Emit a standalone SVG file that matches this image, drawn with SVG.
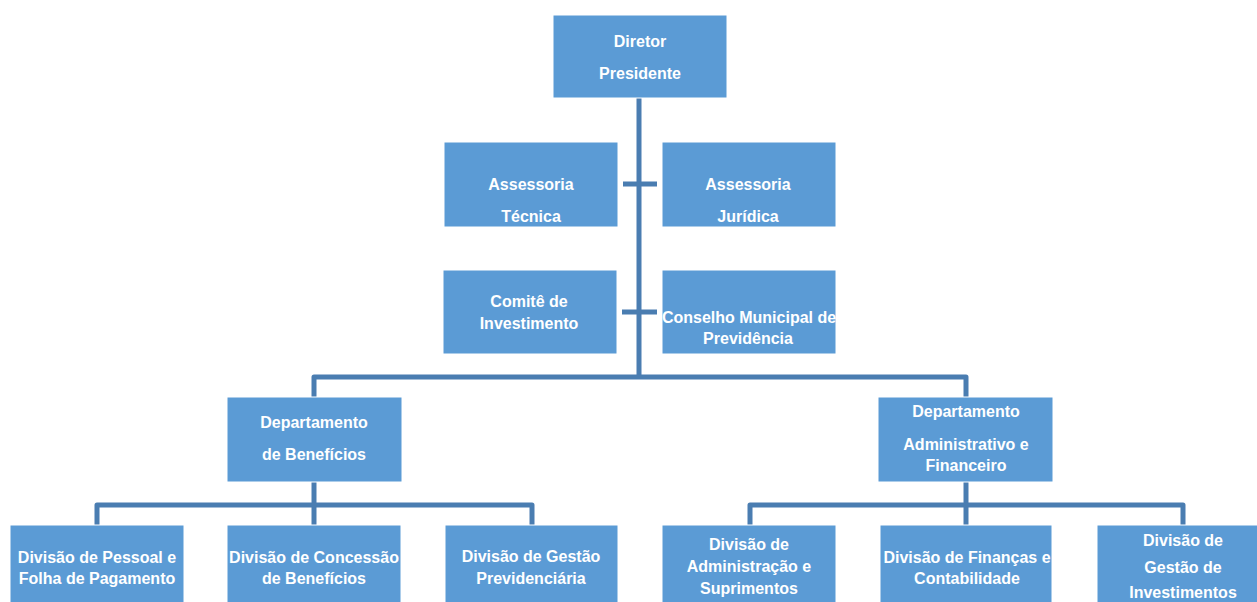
<svg xmlns="http://www.w3.org/2000/svg" width="1257" height="602" viewBox="0 0 1257 602">
<style>
.box{fill:#5B9BD5;stroke:#ffffff;stroke-width:1}
.t{font-family:"Liberation Sans",Arial,sans-serif;font-weight:bold;font-size:16px;fill:#ffffff;text-anchor:middle}
.c{fill:none;stroke:#4A7DB1;stroke-width:5;stroke-linejoin:round}
</style>
<rect width="1257" height="602" fill="#ffffff"/>
<g id="connectors">
<path class="c" d="M639 98 V377"/>
<path class="c" d="M623 184 H657"/>
<path class="c" d="M622 312 H657"/>
<path class="c" d="M314 397 V377 H966 V397"/>
<path class="c" d="M314 482 V525"/>
<path class="c" d="M97 525 V505 H532 V525"/>
<path class="c" d="M966 482 V525"/>
<path class="c" d="M750 525 V505 H1183 V525"/>
</g>
<g id="diretor"><rect class="box" x="553" y="15" width="174" height="83"/><text class="t" x="640" y="47">Diretor</text><text class="t" x="640" y="79">Presidente</text></g>
<g id="assessoria-tecnica"><rect class="box" x="444" y="142" width="174" height="85"/><text class="t" x="531" y="190">Assessoria</text><text class="t" x="531" y="222">Técnica</text></g>
<g id="assessoria-juridica"><rect class="box" x="662" y="142" width="174" height="85"/><text class="t" x="748" y="190">Assessoria</text><text class="t" x="748" y="222">Jurídica</text></g>
<g id="comite"><rect class="box" x="443" y="270" width="174" height="84"/><text class="t" x="529" y="307">Comitê de</text><text class="t" x="529" y="329">Investimento</text></g>
<g id="conselho"><rect class="box" x="662" y="270" width="174" height="84"/><text class="t" x="749" y="323">Conselho Municipal de</text><text class="t" x="748" y="344">Previdência</text></g>
<g id="dep-beneficios"><rect class="box" x="227" y="397" width="175" height="85"/><text class="t" x="314" y="428">Departamento</text><text class="t" x="314" y="460">de Benefícios</text></g>
<g id="dep-adm"><rect class="box" x="878" y="397" width="175" height="85"/><text class="t" x="966" y="417">Departamento</text><text class="t" x="966" y="450">Administrativo e</text><text class="t" x="966" y="471">Financeiro</text></g>
<g id="div-pessoal"><rect class="box" x="10" y="525" width="174" height="80"/><text class="t" x="97" y="563">Divisão de Pessoal e</text><text class="t" x="97" y="584">Folha de Pagamento</text></g>
<g id="div-concessao"><rect class="box" x="227" y="525" width="174" height="80"/><text class="t" x="314" y="563">Divisão de Concessão</text><text class="t" x="314" y="584">de Benefícios</text></g>
<g id="div-gestao-prev"><rect class="box" x="445" y="525" width="173" height="80"/><text class="t" x="531" y="562">Divisão de Gestão</text><text class="t" x="531" y="584">Previdenciária</text></g>
<g id="div-adm"><rect class="box" x="662" y="525" width="174" height="80"/><text class="t" x="749" y="550">Divisão de</text><text class="t" x="749" y="572">Administração e</text><text class="t" x="749" y="594">Suprimentos</text></g>
<g id="div-financas"><rect class="box" x="880" y="525" width="172" height="80"/><text class="t" x="967" y="563">Divisão de Finanças e</text><text class="t" x="967" y="584">Contabilidade</text></g>
<g id="div-investimentos"><rect class="box" x="1097" y="525" width="174" height="80"/><text class="t" x="1183" y="546">Divisão de</text><text class="t" x="1183" y="573">Gestão de</text><text class="t" x="1183" y="598">Investimentos</text></g>
</svg>
